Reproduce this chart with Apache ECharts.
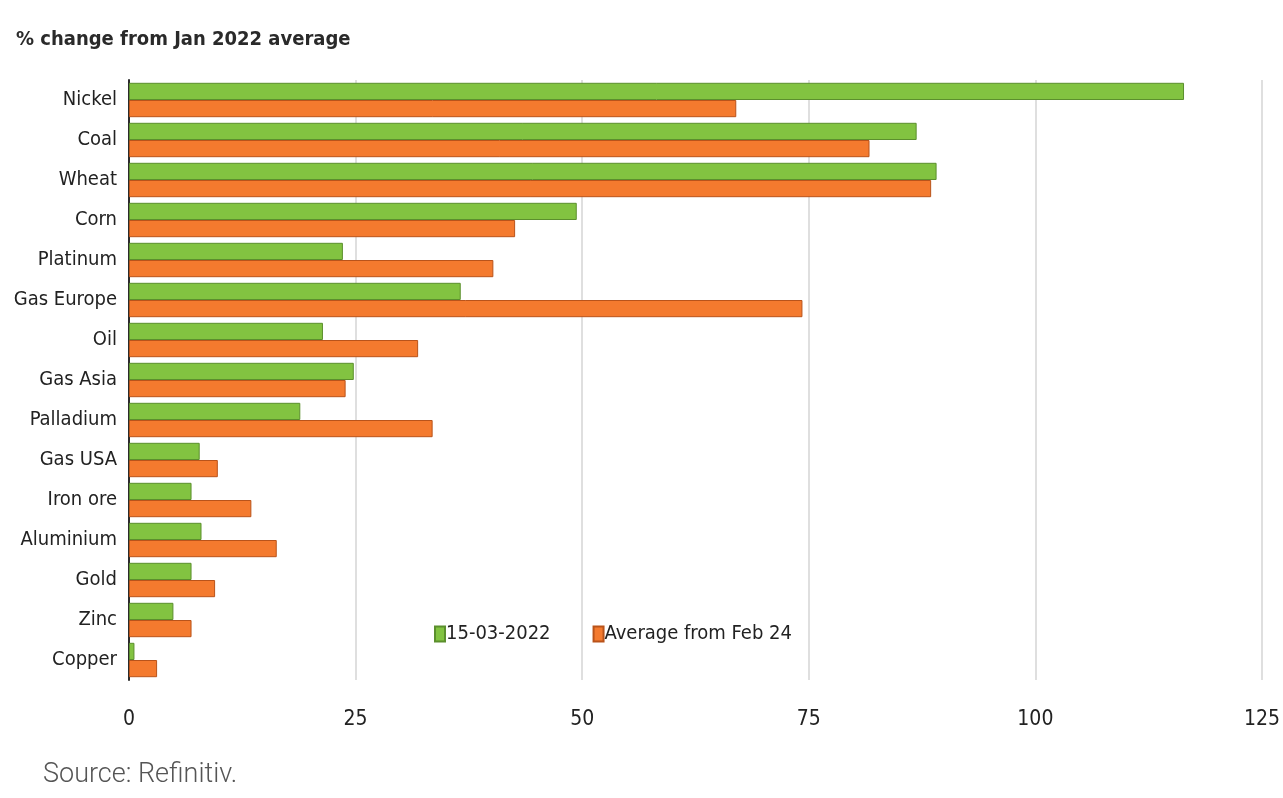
<!DOCTYPE html>
<html>
<head>
<meta charset="utf-8">
<script src="https://cdn.jsdelivr.net/npm/echarts@6/dist/echarts.min.js"></script>
<style>
html,body{margin:0;padding:0;background:#fff;}
#chart{width:1283px;height:798px;}
</style>
</head>
<body>
<div id="chart"></div>
<script>
const categories = ['Nickel','Coal','Wheat','Corn','Platinum','Gas Europe','Oil','Gas Asia','Palladium','Gas USA','Iron ore','Aluminium','Gold','Zinc','Copper'];
const seriesNames = ['15-03-2022','Average from Feb 24'];
const values1503 = [116.4, 86.9, 89.1, 49.4, 23.6, 36.6, 21.4, 24.8, 18.9, 7.8, 6.9, 8.0, 6.9, 4.9, 0.6];
const valuesAvgFeb24 = [67.0, 81.7, 88.5, 42.6, 40.2, 74.3, 31.9, 23.9, 33.5, 9.8, 13.5, 16.3, 9.5, 6.9, 3.1];
const xTicks = {min: 0, max: 125, interval: 25};
const titleText = '% change from Jan 2022 average';
const sourceText = 'Source: Refinitiv.';

const FONT = '"DejaVu Sans Condensed", "Roboto", sans-serif';
const chart = echarts.init(document.getElementById('chart'));
chart.setOption({
  animation: false,
  backgroundColor: '#ffffff',
  title: [
    {text: titleText, left: 11, top: 25, textStyle: {fontFamily: FONT, fontSize: 20, fontWeight: 'bold', color: '#2a2a2a'}},
    {text: sourceText, left: 38, top: 757, textStyle: {fontFamily: 'Roboto', fontSize: 27, fontWeight: 300, color: '#555'}}
  ],
  legend: {
    left: 429, top: 619,
    itemWidth: 10, itemHeight: 15, itemGap: 42,
    icon: 'rect',
    textStyle: {fontFamily: FONT, fontSize: 20, color: '#222', padding: [0,0,0,-4]},
    data: seriesNames
  },
  grid: {left: 129, right: 20, top: 80, bottom: 118, containLabel: false},
  xAxis: {
    type: 'value', min: xTicks.min, max: xTicks.max, interval: xTicks.interval,
    axisLine: {show: false}, axisTick: {show: false},
    axisLabel: {fontFamily: FONT, fontSize: 21, color: '#222', margin: 29},
    splitLine: {show: true, lineStyle: {color: '#d4d4d4', width: 1.5}}
  },
  yAxis: {
    type: 'category', data: categories, inverse: true,
    axisLine: {show: true, lineStyle: {color: '#2b2b2b', width: 2}},
    axisTick: {show: false},
    axisLabel: {fontFamily: FONT, fontSize: 20, color: '#222', margin: 12}
  },
  series: [
    {
      name: seriesNames[0], type: 'bar', data: values1503,
      barGap: '0%', barCategoryGap: '14%',
      itemStyle: {color: '#82c341', borderColor: '#5b8f2d', borderWidth: 1}
    },
    {
      name: seriesNames[1], type: 'bar', data: valuesAvgFeb24,
      itemStyle: {color: '#f47a2e', borderColor: '#b9531a', borderWidth: 1}
    }
  ]
});
</script>
</body>
</html>
